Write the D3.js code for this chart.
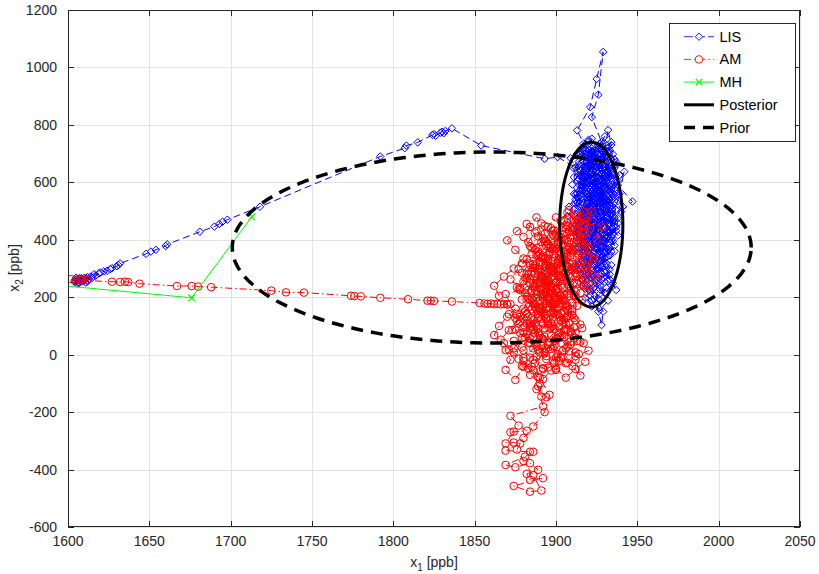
<!DOCTYPE html>
<html>
<head>
<meta charset="utf-8">
<script src="https://cdn.jsdelivr.net/npm/d3@7"></script>
<style>
  body { margin: 0; background: #fff; }
  text { font-family: "Liberation Sans", Arial, Helvetica, sans-serif; fill: #262626; }
</style>
</head>
<body>
<script>
'use strict'

// LIS chain (blue diamonds)
var lisChain = [
  [1604,258],[1606,252],[1608,262],[1605,268],[1609,255],[1611,265],[1607,250],[1612,270],[1610,258],[1613,262],
  [1606,247],[1609,260],[1604,253],[1607,266],[1611,251],[1608,256],[1605,262],[1610,268],[1612,255],[1606,259],
  [1614,272],[1608,266],[1615,268],[1617,275],[1616,280],[1619,283],[1620,286],[1622,290],[1624,292],[1626,298],
  [1627,301],[1630,308],[1631,312],[1632,318],[1648,351],[1651,359],[1654,365],[1660,378],[1661,384],[1681,428],
  [1690,446],[1693,455],[1695,463],[1698,470],[1718,515],[1792,690],[1807,719],[1808,728],[1815,739],[1824,765],
  [1825,768],[1826,762],[1829,773],[1830,776],[1831,771],[1832,779],[1836,788],[1854,728],[1893,682],[1901,688],
  [1912,652],[1918,701],[1915,620],[1921,575],[1917,530],[1924,560],[1928,612],[1922,668],[1916,715],[1920,742],
  [1926,698],[1931,645],[1927,590],[1923,540],[1919,492],[1914,455],[1918,410],[1925,445],[1930,498],[1935,552],
  [1931,603],[1925,652],[1920,690],[1914,662],[1911,618],[1916,571],[1922,522],[1928,478],[1933,430],[1929,388],
  [1923,352],[1917,385],[1912,428],[1916,476],[1921,515],[1927,566],[1932,618],[1937,670],[1933,712],[1927,735],
  [1922,706],[1918,655],[1923,608],[1929,556],[1934,505],[1938,458],[1934,410],[1928,372],[1921,330],[1915,298],
  [1920,262],[1926,295],[1931,338],[1936,380],[1932,425],[1926,470],[1920,512],[1914,548],[1910,592],[1915,638],
  [1921,682],[1926,728],[1930,760],[1928,740],[1922,827],[1926,905],[1929,1054],[1925,960],[1921,862],[1913,781],
  [1917,735],[1922,690],[1928,642],[1932,782],[1934,730],[1930,688],[1925,640],[1919,595],[1913,548],[1917,502],
  [1923,462],[1929,420],[1935,468],[1942,637],[1938,590],[1947,533],[1940,498],[1933,540],[1927,585],[1921,630],
  [1916,585],[1912,540],[1918,498],[1924,452],[1930,408],[1936,360],[1931,318],[1925,282],[1919,240],[1924,205],
  [1929,150],[1928,103],[1925,178],[1921,222],[1917,270],[1913,318],[1918,362],[1924,402],[1929,448],[1934,492],
  [1938,535],[1933,578],[1927,622],[1921,665],[1915,698],[1909,684],[1913,640],[1919,602],[1925,565],[1931,520],
  [1936,478],[1932,436],[1926,398],[1920,355],[1915,312],[1919,275],[1925,248],[1931,290],[1937,225],[1933,262],
  [1928,305],[1922,345],[1917,392],[1911,438],[1907,482],[1912,525],[1918,568],[1924,612],[1930,655],[1935,698],
  [1930,735],[1924,712],[1919,672],[1914,625],[1920,582],[1926,538],[1931,495],[1927,452],[1921,410],[1915,368],
  [1921,320],[1927,358],[1933,402],[1937,445],[1934,488],[1929,532],[1923,575],[1917,622],[1922,660],[1928,698],
  [1933,648],[1938,605],[1935,560],[1929,515],[1923,472],[1918,430],[1913,472],[1908,515],[1913,562],[1919,605],
  [1925,650],[1931,692],[1927,718],[1920,748],[1916,705],[1921,658],[1927,612],[1933,568],[1928,522],[1922,478],
  [1916,435],[1922,392],[1928,350],[1934,312],[1929,270],[1923,232],[1918,198],[1922,168],[1927,212],[1932,255],
  [1926,300],[1920,342],[1925,385],[1931,428],[1936,472],[1941,515],[1936,558],[1930,600],[1924,645],[1918,688],
  [1923,725],[1929,702],[1934,660],[1939,625],[1934,585],[1928,545],[1922,505],[1917,462],[1912,418],[1917,375],
  [1923,338],[1929,378],[1935,420],[1930,462],[1924,505],[1919,548],[1914,592],[1920,635],[1926,678],[1932,720],
  [1936,680],[1931,638],[1925,595],[1920,552],[1926,512],[1932,470],[1927,428],[1921,388],[1916,345],[1911,305],
  [1916,262],[1922,292],[1928,328],[1933,372],[1938,415],[1933,458],[1927,498],[1921,545],[1916,590],[1921,628],
  [1927,668],[1922,708],[1917,672],[1923,628],[1929,585],[1935,542],[1930,500],[1924,458],[1918,415],[1924,375],
  [1930,335],[1925,298],[1919,330],[1914,372],[1919,418],[1925,462],[1931,508],[1926,552],[1920,598],[1915,642],
  [1921,612],[1927,572],[1932,528],[1928,485],[1922,442],[1919,520],[1925,488],[1930,545],[1924,598],[1918,640],
  [1913,605],[1919,560],[1926,530],[1932,575],[1928,630],[1922,675],[1917,720],[1923,695],[1929,660],[1935,625],
  [1931,580],[1925,525],[1920,475],[1914,505],[1911,560],[1917,610],[1923,655],[1929,705],[1934,740],[1930,712],
  [1925,670],[1921,625],[1916,580],[1913,530],[1918,482],[1924,438],[1930,392],[1935,438],[1931,482],[1926,520],
  [1921,465],[1916,415],[1912,370],[1918,330],[1924,310],[1930,352],[1925,395],[1920,440],[1915,485],[1920,530],
  [1926,575],[1932,545],[1937,505],[1932,455],[1927,410],[1922,365],[1917,320],[1922,280],[1928,262],[1933,298],
  [1929,342],[1924,388],[1919,432],[1914,478],[1919,525],[1925,568],[1931,612],[1936,650],[1932,690],[1927,652],
  [1921,605],[1915,555],[1911,505],[1916,460],[1922,420],[1928,465],[1933,512],[1928,555],[1923,598],[1918,645],
  [1924,685],[1930,628],[1935,590],[1930,548],[1924,508],[1919,468],[1913,425],[1918,388],[1923,425],[1929,470],
  [1934,520],[1939,560],[1935,605],[1929,645],[1923,688],[1918,732],[1913,700],[1919,665],[1925,618],[1931,572],
  [1926,535],[1921,495],[1916,455],[1921,418],[1927,382],[1932,412],[1937,432],[1933,475],[1927,515],[1921,555],
  [1916,600],[1911,648],[1917,690],[1922,718],[1928,685],[1934,640],[1929,598],[1923,552],[1918,508],[1913,462],
  [1917,418],[1923,378],[1928,338],[1934,358],[1929,400],[1924,442],[1918,485],[1923,530],[1929,572],[1934,615],
  [1930,668],[1924,702],[1919,655],[1914,612],[1920,565],[1926,522],[1931,478],[1926,438],[1920,398],[1915,352],
  [1920,308],[1926,270],[1931,232],[1926,195],[1921,248],[1917,292],[1922,335],[1928,378],[1933,425],[1938,475],
  [1933,522],[1927,562],[1922,612],[1917,655],[1922,698],[1928,725],[1933,705],[1937,662],[1932,625],[1926,588],
  [1921,542],[1916,498],[1921,452],[1927,405],[1932,368],[1927,325],[1921,285],[1916,240],[1921,205],[1927,240],
  [1933,280],[1929,318],[1923,362],[1917,405],[1912,450],[1917,495],[1923,540],[1929,585],[1934,630],[1929,672],
  [1923,642],[1917,598],[1912,558],[1918,515],[1924,472],[1930,438],[1935,395],[1930,355],[1924,318],[1919,355],
  [1914,398],[1919,445],[1925,492],[1930,535],[1925,582],[1919,628],[1914,672],[1920,712],[1926,662],[1931,620],
  [1936,578],[1931,535],[1925,498],[1920,458],[1926,415],[1931,372],[1925,335],[1919,298],[1924,258],[1930,215],
  [1935,248],[1930,285],[1924,325],[1918,372],[1923,415],[1928,458],[1922,498],[1917,540],[1922,585],[1928,628],
  [1933,668],[1928,710],[1922,752],[1918,712],[1924,675],[1930,640],[1925,602],[1919,558],[1914,515],[1920,478],
  [1926,442],[1931,405],[1936,448],[1932,492],[1927,532],[1921,575],[1926,618],[1932,655],[1927,692],[1921,660],
  [1916,622],[1922,582],[1928,540],[1923,500],[1917,460],[1922,428],[1928,392],[1933,345],[1928,305],[1922,268],
  [1927,228],[1932,188],[1926,150],[1922,190],[1918,230]
];

// AM chain (red circles)
var amChain = [
  [1602,263],[1607,261],[1605,258],[1609,262],[1612,260],[1608,259],[1627,254],[1632,253],[1635,254],[1637,253],
  [1644,247],[1667,239],[1676,239],[1680,237],[1688,235],[1725,223],[1734,217],[1745,216],[1774,205],[1776,204],
  [1780,203],[1792,198],[1809,193],[1821,188],[1823,188],[1825,187],[1836,185],[1853,180],[1856,178],[1858,177],
  [1860,178],[1862,176],[1864,177],[1866,175],[1868,176],[1870,175],[1872,176],[1869,211],[1878,225],[1884,190],
  [1890,158],[1886,120],[1893,92],[1898,130],[1892,170],[1888,212],[1895,248],[1901,215],[1897,180],[1903,145],
  [1908,110],[1902,75],[1896,42],[1890,8],[1884,40],[1880,78],[1887,105],[1893,140],[1899,175],[1905,210],
  [1900,250],[1894,285],[1889,250],[1883,280],[1879,318],[1885,350],[1891,322],[1897,292],[1903,262],[1909,298],
  [1904,335],[1898,368],[1893,402],[1899,432],[1905,400],[1910,365],[1906,330],[1900,300],[1895,265],[1890,230],
  [1885,195],[1880,160],[1875,128],[1871,141],[1878,115],[1873,86],[1875,88],[1881,60],[1888,28],[1894,-5],
  [1899,30],[1905,62],[1911,95],[1906,128],[1901,160],[1896,195],[1891,272],[1887,310],[1892,345],[1898,380],
  [1893,420],[1891,457],[1887,425],[1883,392],[1889,359],[1895,325],[1901,290],[1907,255],[1912,285],[1908,318],
  [1903,352],[1897,318],[1891,285],[1886,250],[1881,215],[1886,178],[1892,145],[1897,110],[1903,78],[1909,45],
  [1904,12],[1898,-20],[1892,-50],[1886,-18],[1880,15],[1874,48],[1869,16],[1872,-18],[1869,-53],[1875,-88],
  [1880,-42],[1885,-42],[1892,-47],[1888,-8],[1894,22],[1900,55],[1906,88],[1912,120],[1907,155],[1902,188],
  [1897,222],[1893,258],[1898,292],[1904,328],[1910,362],[1915,398],[1910,432],[1905,468],[1908,503],[1912,486],
  [1906,452],[1900,418],[1895,385],[1890,350],[1886,315],[1882,282],[1888,248],[1894,215],[1899,182],[1905,150],
  [1910,180],[1915,215],[1911,250],[1906,282],[1901,318],[1896,352],[1901,385],[1907,420],[1913,455],[1918,425],
  [1914,390],[1909,355],[1904,320],[1899,285],[1894,250],[1889,218],[1884,250],[1879,285],[1884,318],[1889,290],
  [1895,258],[1900,225],[1896,188],[1891,152],[1886,88],[1892,55],[1897,20],[1903,-12],[1900,-53],[1906,-30],
  [1912,-18],[1915,-73],[1910,-40],[1904,-8],[1898,25],[1893,62],[1888,98],[1883,132],[1889,165],[1895,198],
  [1901,232],[1906,268],[1911,302],[1916,338],[1920,372],[1916,408],[1922,498],[1918,462],[1913,428],[1908,392],
  [1903,358],[1898,325],[1893,292],[1888,258],[1883,225],[1879,192],[1885,158],[1891,125],[1896,92],[1902,60],
  [1907,28],[1912,-5],[1920,14],[1915,45],[1909,78],[1904,112],[1899,145],[1894,178],[1889,142],[1884,108],
  [1878,75],[1883,42],[1889,75],[1895,108],[1900,140],[1906,175],[1911,208],[1917,242],[1913,275],[1908,240],
  [1903,205],[1898,172],[1893,205],[1887,238],[1892,270],[1897,305],[1903,338],[1909,372],[1914,345],[1919,310],
  [1924,278],[1920,245],[1915,280],[1910,315],[1905,285],[1900,252],[1895,220],[1890,188],[1885,222],[1880,255],
  [1885,288],[1890,322],[1896,358],[1902,392],[1908,428],[1914,462],[1920,432],[1925,400],[1928,446],[1922,465],
  [1917,498],[1911,470],[1906,438],[1901,405],[1896,372],[1891,338],[1886,302],[1881,268],[1876,235],[1882,202],
  [1887,168],[1893,135],[1898,100],[1904,68],[1909,35],[1914,2],[1918,-25],[1912,-50],[1906,-80],[1900,-48],
  [1895,240],[1901,275],[1906,310],[1902,345],[1896,310],[1891,275],[1886,238],[1892,200],[1898,235],[1903,270],
  [1908,305],[1913,338],[1908,375],[1903,408],[1897,375],[1892,338],[1887,302],[1882,265],[1877,228],[1883,195],
  [1888,160],[1894,125],[1899,90],[1905,122],[1910,158],[1905,192],[1900,228],[1895,195],[1890,162],[1885,128],
  [1880,95],[1886,62],[1891,30],[1897,65],[1902,98],[1907,135],[1913,170],[1908,205],[1903,240],[1898,275],
  [1893,310],[1888,345],[1884,378],[1889,412],[1895,445],[1900,478],[1904,442],[1909,408],[1914,372],[1919,338],
  [1914,302],[1909,268],[1904,232],[1899,198],[1894,162],[1889,128],[1884,92],[1879,58],[1874,22],[1880,-12],
  [1886,22],[1891,58],[1897,95],[1902,130],[1907,168],[1912,202],[1917,238],[1912,272],[1907,308],[1902,275],
  [1897,240],[1892,208],[1887,175],[1882,142],[1877,108],[1882,72],[1888,38],[1893,5],[1899,-28],[1904,38],
  [1910,70],[1915,105],[1910,138],[1904,172],[1899,208],[1894,242],[1889,278],[1884,312],[1889,345],[1894,378],
  [1899,412],[1904,380],[1909,345],[1914,312],[1918,278],[1913,245],[1907,212],[1902,178],[1897,145],[1892,110],
  [1887,75],[1882,108],[1876,142],[1870,175],[1865,205],[1862,240],[1868,272],[1874,300],[1880,335],[1875,365],
  [1870,398],[1876,430],[1882,455],[1888,430],[1894,395],[1899,362],[1905,328],[1910,295],[1905,262],[1900,198],
  [1896,165],[1890,132],[1885,98],[1880,125],[1875,160],[1870,132],[1865,100],[1862,68],[1868,40],[1874,8],
  [1880,-22],[1886,-55],[1892,-85],[1897,-55],[1902,-22],[1908,12],[1913,48],[1909,82],[1903,118],[1898,152],
  [1893,188],[1888,222],[1894,258],[1899,292],[1905,358],[1911,392],[1916,428],[1912,462],[1907,495],[1903,465],
  [1898,432],[1893,395],[1887,365],[1882,332],[1877,298],[1872,262],[1878,232],[1884,265],[1890,298],[1895,332],
  [1900,368],[1906,402],[1911,438],[1917,472],[1921,440],[1917,405],[1912,375],[1907,340],[1902,302],[1897,268],
  [1893,232],[1888,198],[1883,165],[1878,132],[1884,100],[1890,68],[1895,35],[1901,2],[1907,-28],[1912,8],
  [1917,40],[1912,75],[1906,108],[1901,142],[1896,178],[1891,212],[1886,188],[1881,152],[1876,118],[1871,85],
  [1866,52],[1871,18],[1877,-15],[1883,-48],[1889,-78],[1895,-45],[1900,-10],[1906,22],[1911,58],[1916,92],
  [1911,128],[1906,162],[1901,195],[1896,230],[1891,265],[1896,298],[1902,332],[1907,365],[1913,398],[1918,365],
  [1923,330],[1919,292],[1914,258],[1909,222],[1904,188],[1898,215],[1893,248],[1887,282],[1892,315],[1898,350],
  [1903,385],[1898,418],[1893,448],[1888,478],[1884,445],[1880,410],[1885,372],[1891,392],
  [1894,-15],[1889,18],[1884,-10],[1879,-40],[1884,-70],[1890,-100],[1891,-146],[1894,-148],[1888,-120],[1889,-110],
  [1892,-180],[1872,-213],[1877,-247],[1882,-265],[1872,-270],[1874,-268],[1869,-309],[1874,-306],[1878,-309],[1869,-334],
  [1884,-338],[1886,-338],[1881,-355],[1869,-384],[1875,-392],[1884,-378],[1889,-401],[1882,-415],[1884,-436],[1892,-430],
  [1874,-457],[1884,-477],[1891,-473],[1886,-420],[1880,-370],[1876,-330],[1880,-290],[1886,-250],[1893,-200],[1896,-140],
  [1890,-80],[1887,-30],[1893,10],[1899,48],[1905,85],[1910,150],[1916,190],[1921,230],[1925,265],[1919,305],
  [1923,340],[1918,380],[1913,410],[1917,445],[1912,480],[1907,448],[1902,412],[1897,440],[1892,405],[1888,372],
  [1893,335],[1899,305],[1904,270],[1909,232],[1904,195],[1899,160],[1894,125],[1889,90],[1884,58],[1879,25]
];

// MH chain (green crosses)
var mhChain = [[1597,240],[1676,198],[1713,480]];

// ellipses: [centre x, centre y, radius x, radius y]
var posterior = [1921.7, 453, 19.4, 287];
var prior = [1860.5, 373, 159.5, 332.5];

var xTicks = [1600,1650,1700,1750,1800,1850,1900,1950,2000,2050];
var yTicks = [-600,-400,-200,0,200,400,600,800,1000,1200];
var legendNames = ["LIS","AM","MH","Posterior","Prior"];

var W = 819, H = 574;
var margin = {top: 10, right: 19, bottom: 47, left: 68};
var x = d3.scaleLinear().domain([1600, 2050]).range([margin.left, W - margin.right]);
var y = d3.scaleLinear().domain([-600, 1200]).range([H - margin.bottom, margin.top]);

var svg = d3.select("body").append("svg")
            .attr("width", W)
            .attr("height", H);

svg.append("defs").append("clipPath").attr("id", "clip")
   .append("rect")
   .attr("x", margin.left).attr("y", margin.top)
   .attr("width", x(2050) - x(1600)).attr("height", y(-600) - y(1200));

// grid
var grid = svg.append("g").attr("stroke", "#e3e3e3").attr("stroke-width", 1);
grid.selectAll("line.gx").data(xTicks).enter().append("line")
    .attr("x1", function(d){ return Math.round(x(d)) + 0.5; })
    .attr("x2", function(d){ return Math.round(x(d)) + 0.5; })
    .attr("y1", y(-600)).attr("y2", y(1200));
grid.selectAll("line.gy").data(yTicks).enter().append("line")
    .attr("y1", function(d){ return Math.round(y(d)) + 0.5; })
    .attr("y2", function(d){ return Math.round(y(d)) + 0.5; })
    .attr("x1", x(1600)).attr("x2", x(2050));

var plot = svg.append("g").attr("clip-path", "url(#clip)");

var line = d3.line()
             .x(function(d){ return x(d[0]); })
             .y(function(d){ return y(d[1]); });

// LIS
plot.append("path")
    .attr("d", line(lisChain))
    .attr("fill", "none").attr("stroke", "#0000ff")
    .attr("stroke-width", 1).attr("stroke-dasharray", "7,4");
plot.append("g").selectAll("path").data(lisChain).enter().append("path")
    .attr("d", d3.symbol().type(d3.symbolDiamond2).size(36))
    .attr("transform", function(d){ return "translate(" + x(d[0]) + "," + y(d[1]) + ")"; })
    .attr("fill", "none").attr("stroke", "#0000ff").attr("stroke-width", 1);

// AM
plot.append("path")
    .attr("d", line(amChain))
    .attr("fill", "none").attr("stroke", "#ff0000")
    .attr("stroke-width", 1).attr("stroke-dasharray", "7,3,1.5,3");
plot.append("g").selectAll("circle").data(amChain).enter().append("circle")
    .attr("cx", function(d){ return x(d[0]); })
    .attr("cy", function(d){ return y(d[1]); })
    .attr("r", 3.8)
    .attr("fill", "none").attr("stroke", "#ff0000").attr("stroke-width", 1);

// MH
plot.append("path")
    .attr("d", line(mhChain))
    .attr("fill", "none").attr("stroke", "#00ff00").attr("stroke-width", 1);
plot.append("g").selectAll("path").data(mhChain).enter().append("path")
    .attr("d", d3.symbol().type(d3.symbolTimes).size(30))
    .attr("transform", function(d){ return "translate(" + x(d[0]) + "," + y(d[1]) + ")"; })
    .attr("fill", "none").attr("stroke", "#00ff00").attr("stroke-width", 1.2);

function ellipsePoints(e){
  return d3.range(0, 361, 2).map(function(a){
    var t = a * Math.PI / 180;
    return [e[0] + e[2] * Math.cos(t), e[1] + e[3] * Math.sin(t)];
  });
}

plot.append("path")
    .attr("d", line(ellipsePoints(posterior)))
    .attr("fill", "none").attr("stroke", "#000").attr("stroke-width", 3);
plot.append("path")
    .attr("d", line(ellipsePoints(prior)))
    .attr("fill", "none").attr("stroke", "#000").attr("stroke-width", 3.5)
    .attr("stroke-dasharray", "12,8");

// axes box + ticks
var ax = svg.append("g").attr("stroke", "#262626").attr("stroke-width", 1).attr("fill", "none");
ax.append("rect")
  .attr("x", margin.left + 0.5).attr("y", margin.top + 0.5)
  .attr("width", x(2050) - x(1600) - 1).attr("height", y(-600) - y(1200) - 1);
xTicks.forEach(function(d){
  var px = Math.round(x(d)) + 0.5;
  ax.append("line").attr("x1", px).attr("x2", px).attr("y1", y(-600)).attr("y2", y(-600) - 6);
  ax.append("line").attr("x1", px).attr("x2", px).attr("y1", y(1200)).attr("y2", y(1200) + 6);
});
yTicks.forEach(function(d){
  var py = Math.round(y(d)) + 0.5;
  ax.append("line").attr("y1", py).attr("y2", py).attr("x1", x(1600)).attr("x2", x(1600) + 6);
  ax.append("line").attr("y1", py).attr("y2", py).attr("x1", x(2050)).attr("x2", x(2050) - 6);
});

svg.append("g").selectAll("text").data(xTicks).enter().append("text")
   .attr("x", function(d){ return x(d); })
   .attr("y", y(-600) + 19)
   .attr("text-anchor", "middle")
   .attr("font-size", 14)
   .text(function(d){ return d; });
svg.append("g").selectAll("text").data(yTicks).enter().append("text")
   .attr("x", x(1600) - 11)
   .attr("y", function(d){ return y(d) + 5; })
   .attr("text-anchor", "end")
   .attr("font-size", 14)
   .text(function(d){ return d; });

var xl = svg.append("text").attr("x", 434).attr("y", 567)
            .attr("text-anchor", "middle").attr("font-size", 14);
xl.append("tspan").text("x");
xl.append("tspan").attr("font-size", 10).attr("dy", 4).text("1");
xl.append("tspan").attr("dy", -4).text(" [ppb]");

var yl = svg.append("text").attr("transform", "translate(19,268) rotate(-90)")
            .attr("text-anchor", "middle").attr("font-size", 14);
yl.append("tspan").text("x");
yl.append("tspan").attr("font-size", 10).attr("dy", 4).text("2");
yl.append("tspan").attr("dy", -4).text(" [ppb]");

// legend
var lg = svg.append("g");
lg.append("rect").attr("x", 669.5).attr("y", 23.5).attr("width", 126).attr("height", 118)
  .attr("fill", "#fff").attr("stroke", "#262626").attr("stroke-width", 1);
var rowY = function(i){ return 36.7 + i * 22.7; };
var lx1 = 684, lx2 = 714, lmid = 699;

lg.append("line").attr("x1", lx1).attr("x2", lx2).attr("y1", rowY(0)).attr("y2", rowY(0))
  .attr("stroke", "#0000ff").attr("stroke-width", 0.8).attr("stroke-dasharray", "9,3");
lg.append("path").attr("d", d3.symbol().type(d3.symbolDiamond2).size(36))
  .attr("transform", "translate(" + lmid + "," + rowY(0) + ")")
  .attr("fill", "#fff").attr("stroke", "#0000ff").attr("stroke-width", 0.9);

lg.append("line").attr("x1", lx1).attr("x2", lx2).attr("y1", rowY(1)).attr("y2", rowY(1))
  .attr("stroke", "#ff0000").attr("stroke-width", 0.8).attr("stroke-dasharray", "7,3,1.5,3");
lg.append("circle").attr("cx", lmid).attr("cy", rowY(1)).attr("r", 3.8)
  .attr("fill", "#fff").attr("stroke", "#ff0000").attr("stroke-width", 0.9);

lg.append("line").attr("x1", lx1).attr("x2", lx2).attr("y1", rowY(2)).attr("y2", rowY(2))
  .attr("stroke", "#00ff00").attr("stroke-width", 1);
lg.append("path").attr("d", d3.symbol().type(d3.symbolTimes).size(30))
  .attr("transform", "translate(" + lmid + "," + rowY(2) + ")")
  .attr("fill", "none").attr("stroke", "#00ff00").attr("stroke-width", 1.2);

lg.append("line").attr("x1", lx1).attr("x2", lx2).attr("y1", rowY(3)).attr("y2", rowY(3))
  .attr("stroke", "#000").attr("stroke-width", 3);
lg.append("line").attr("x1", lx1).attr("x2", lx2).attr("y1", rowY(4)).attr("y2", rowY(4))
  .attr("stroke", "#000").attr("stroke-width", 3.5).attr("stroke-dasharray", "11,8");

lg.selectAll("text").data(legendNames).enter().append("text")
  .attr("x", 719.5)
  .attr("y", function(d, i){ return rowY(i) + 5; })
  .attr("font-size", 14.5)
  .style("fill", "#000")
  .text(function(d){ return d; });
</script>
</body>
</html>
